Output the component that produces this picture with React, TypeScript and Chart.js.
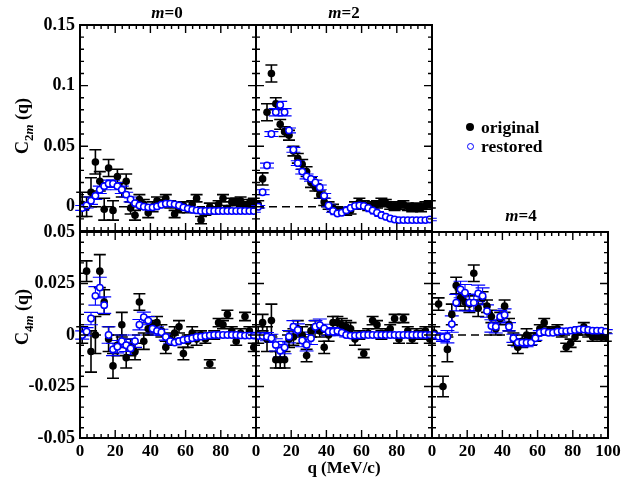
import React, { useEffect, useRef } from "react";
import { Chart, registerables } from "chart.js";

Chart.register(...registerables);

const SERIF = "'Liberation Serif', 'Times New Roman', Times, serif";

// momentum bins (MeV/c)
const Q = [
  1.25, 3.75, 6.25, 8.75, 11.25, 13.75, 16.25, 18.75, 21.25, 23.75,
  26.25, 28.75, 31.25, 33.75, 36.25, 38.75, 41.25, 43.75, 46.25, 48.75,
  51.25, 53.75, 56.25, 58.75, 61.25, 63.75, 66.25, 68.75, 71.25, 73.75,
  76.25, 78.75, 81.25, 83.75, 86.25, 88.75, 91.25, 93.75, 96.25, 98.75,
];

// C20 (m=0, top)
const C20_ORIG = [
  0.002, 0.0, 0.012, 0.037, 0.021, -0.002, 0.032, -0.003, 0.025, 0.014,
  0.021, -0.001, -0.007, 0.006, 0.002, -0.005, 0.0, 0.005, 0.003, 0.007,
  0.002, -0.006, -0.002, 0.001, -0.002, 0.002, 0.007, -0.011, -0.004, 0.0,
  -0.003, 0.002, 0.007, -0.002, 0.004, 0.004, 0.005, 0.001, 0.003, 0.004,
];
const C20_ORIG_ERR = [
  0.01, 0.008, 0.012, 0.01, 0.008, 0.009, 0.007, 0.008, 0.006, 0.006,
  0.006, 0.005, 0.004, 0.004, 0.004, 0.004, 0.004, 0.003, 0.003, 0.003,
  0.003, 0.003, 0.003, 0.003, 0.003, 0.003, 0.003, 0.003, 0.003, 0.003,
  0.003, 0.003, 0.003, 0.003, 0.003, 0.003, 0.003, 0.003, 0.003, 0.003,
];
const C20_REST = [
  -0.001, 0.001, 0.005, 0.009, 0.014, 0.017, 0.019, 0.019, 0.017, 0.014,
  0.01, 0.006, 0.003, 0.001, 0.0, -0.0005, -0.0005, 0.0003, 0.0017, 0.0025,
  0.0025, 0.002, 0.001, -0.0005, -0.0015, -0.0025, -0.003, -0.0035, -0.0035, -0.0035,
  -0.0035, -0.0035, -0.0035, -0.0035, -0.0035, -0.0035, -0.0035, -0.0035, -0.0035, -0.0035,
];
const C20_REST_ERR = [
  0.002, 0.002, 0.003, 0.003, 0.003, 0.003, 0.003, 0.003, 0.003, 0.003,
  0.002, 0.002, 0.002, 0.001, 0.001, 0.001, 0.001, 0.001, 0.001, 0.001,
  0.001, 0.001, 0.001, 0.001, 0.001, 0.001, 0.001, 0.001, 0.001, 0.001,
  0.001, 0.001, 0.001, 0.001, 0.001, 0.001, 0.001, 0.001, 0.001, 0.001,
];

// C22 (m=2, top)
const C22_ORIG = [
  0.002, 0.023, 0.078, 0.11, 0.085, 0.068, 0.062, 0.059, 0.046, 0.04,
  0.035, 0.029, 0.02, 0.016, 0.01, 0.004, 0.001, -0.001, -0.003, -0.004,
  -0.004, -0.003, 0.001, 0.004, 0.002, 0.0, 0.001, 0.002, 0.004, 0.003,
  0.001, 0.0, 0.001, 0.002, 0.0, -0.001, 0.0, -0.001, 0.001, 0.002,
];
const C22_ORIG_ERR = [
  0.003, 0.005, 0.007, 0.007, 0.005, 0.004, 0.004, 0.004, 0.004, 0.004,
  0.004, 0.004, 0.004, 0.003, 0.003, 0.003, 0.003, 0.003, 0.003, 0.003,
  0.003, 0.003, 0.003, 0.003, 0.003, 0.003, 0.003, 0.003, 0.003, 0.003,
  0.003, 0.003, 0.003, 0.003, 0.003, 0.003, 0.003, 0.003, 0.003, 0.003,
];
const C22_REST = [
  0.0, 0.012, 0.034, 0.06, 0.078, 0.084, 0.078, 0.063, 0.047, 0.036,
  0.029, 0.025, 0.023, 0.02, 0.016, 0.009, 0.001, -0.0035, -0.0055, -0.005,
  -0.003, -0.001, 0.0006, 0.001, 0.0006, -0.001, -0.003, -0.005, -0.007, -0.0083,
  -0.0097, -0.0105, -0.011, -0.011, -0.011, -0.011, -0.011, -0.011, -0.011, -0.0105,
];
const C22_REST_ERR = [
  0.001, 0.002, 0.002, 0.002, 0.003, 0.003, 0.003, 0.002, 0.002, 0.002,
  0.002, 0.002, 0.002, 0.002, 0.002, 0.002, 0.001, 0.001, 0.001, 0.001,
  0.001, 0.001, 0.001, 0.001, 0.001, 0.001, 0.001, 0.001, 0.001, 0.001,
  0.001, 0.001, 0.001, 0.001, 0.001, 0.001, 0.001, 0.001, 0.001, 0.001,
];

// C40 (m=0, bottom)
const C40_ORIG = [
  0.0, 0.031, -0.008, 0.0, 0.031, 0.016, -0.002, -0.015, -0.005, 0.005,
  -0.011, -0.006, -0.008, 0.016, -0.003, 0.003, 0.004, 0.006, 0.002, -0.006,
  -0.002, 0.001, 0.004, -0.009, -0.003, 0.001, -0.002, 0.0, -0.002, -0.014,
  0.0, 0.006, 0.005, 0.01, 0.002, -0.003, 0.001, 0.009, 0.002, -0.006,
];
const C40_ORIG_ERR = [
  0.004, 0.005, 0.01, 0.009, 0.008, 0.006, 0.006, 0.006, 0.005, 0.006,
  0.005, 0.004, 0.004, 0.004, 0.004, 0.003, 0.003, 0.003, 0.003, 0.003,
  0.003, 0.003, 0.003, 0.003, 0.003, 0.003, 0.003, 0.002, 0.002, 0.002,
  0.002, 0.002, 0.002, 0.002, 0.002, 0.002, 0.002, 0.002, 0.002, 0.002,
];
const C40_REST = [
  0.0, 0.0016, 0.008, 0.019, 0.023, 0.0145, 0.0, -0.007, -0.0057, -0.003,
  -0.005, -0.0065, -0.003, 0.005, 0.0086, 0.007, 0.003, 0.002, 0.0013, -0.001,
  -0.003, -0.0037, -0.003, -0.0024, -0.002, -0.0016, -0.001, -0.0008, -0.0005, -0.0002,
  0.0, 0.0, 0.0, 0.0, 0.0, 0.0, -0.0002, -0.0003, -0.0003, -0.0003,
];
const C40_REST_ERR = [
  0.002, 0.002, 0.003, 0.0045, 0.005, 0.004, 0.004, 0.003, 0.003, 0.003,
  0.003, 0.003, 0.003, 0.0025, 0.0025, 0.002, 0.002, 0.002, 0.0015, 0.0015,
  0.001, 0.001, 0.001, 0.001, 0.001, 0.001, 0.001, 0.001, 0.001, 0.001,
  0.001, 0.001, 0.001, 0.001, 0.001, 0.001, 0.001, 0.001, 0.001, 0.001,
];

// C42 (m=2, bottom)
const C42_ORIG = [
  0.0, 0.006, -0.002, 0.007, -0.012, -0.012, -0.012, -0.002, -0.001, 0.003,
  0.0, -0.01, 0.002, 0.004, 0.002, -0.006, 0.0, 0.006, 0.006, 0.005,
  0.004, 0.003, -0.002, 0.0, -0.009, 0.001, 0.007, 0.005, 0.0, 0.001,
  0.003, 0.008, -0.002, 0.008, 0.002, -0.002, 0.001, 0.0, 0.002, -0.002,
];
const C42_ORIG_ERR = [
  0.004, 0.004, 0.006, 0.008, 0.004, 0.004, 0.004, 0.004, 0.004, 0.004,
  0.004, 0.003, 0.003, 0.003, 0.003, 0.003, 0.003, 0.003, 0.003, 0.003,
  0.003, 0.003, 0.003, 0.002, 0.002, 0.002, 0.002, 0.002, 0.002, 0.002,
  0.002, 0.002, 0.002, 0.002, 0.002, 0.002, 0.002, 0.002, 0.002, 0.002,
];
const C42_REST = [
  -0.0005, -0.0005, -0.0008, -0.0016, -0.0048, -0.0076, -0.0061, -0.0008, 0.004, 0.0024,
  -0.0027, -0.0048, -0.0016, 0.004, 0.0048, 0.0032, 0.0016, 0.0016, 0.0019, 0.0011,
  0.0, -0.0003, -0.0003, -0.0002, 0.0, 0.0, 0.0, 0.0, 0.0, 0.0,
  0.0, 0.0, 0.0, 0.0, 0.0, 0.0, 0.0, 0.0, 0.0, 0.0,
];
const C42_REST_ERR = [
  0.001, 0.001, 0.002, 0.002, 0.003, 0.003, 0.003, 0.003, 0.003, 0.003,
  0.003, 0.003, 0.003, 0.003, 0.003, 0.002, 0.002, 0.002, 0.001, 0.001,
  0.001, 0.001, 0.001, 0.001, 0.001, 0.001, 0.001, 0.001, 0.001, 0.001,
  0.001, 0.001, 0.001, 0.001, 0.001, 0.001, 0.001, 0.001, 0.001, 0.001,
];

// C44 (m=4, bottom)
const C44_ORIG = [
  0.001, 0.015, -0.025, -0.007, 0.01, 0.024, 0.018, 0.016, 0.015, 0.03,
  0.013, 0.018, 0.014, 0.009, 0.003, 0.008, 0.014, 0.005, -0.002, -0.006,
  -0.003, 0.0, -0.002, -0.001, 0.003, 0.006, 0.002, 0.002, 0.003, 0.001,
  -0.006, -0.004, -0.001, 0.002, 0.004, 0.001, -0.001, 0.0, -0.001, -0.001,
];
const C44_ORIG_ERR = [
  0.003, 0.003, 0.005, 0.006, 0.005, 0.004, 0.004, 0.004, 0.004, 0.004,
  0.004, 0.003, 0.003, 0.003, 0.003, 0.003, 0.003, 0.003, 0.003, 0.003,
  0.003, 0.003, 0.003, 0.002, 0.002, 0.002, 0.002, 0.002, 0.002, 0.002,
  0.002, 0.002, 0.002, 0.002, 0.002, 0.002, 0.002, 0.002, 0.002, 0.002,
];
const C44_REST = [
  0.0, -0.0008, -0.0011, -0.0008, 0.0053, 0.0157, 0.0221, 0.0205, 0.0157, 0.0157,
  0.0202, 0.0189, 0.0116, 0.0044, 0.004, 0.0089, 0.0097, 0.004, -0.0016, -0.0037,
  -0.0037, -0.0037, -0.0037, -0.0016, 0.0011, 0.0016, 0.0011, 0.0011, 0.0016, 0.0019,
  0.0019, 0.0021, 0.0024, 0.0027, 0.0027, 0.0024, 0.0021, 0.0021, 0.0021, 0.0016,
];
const C44_REST_ERR = [
  0.001, 0.001, 0.002, 0.003, 0.004, 0.004, 0.004, 0.004, 0.004, 0.004,
  0.004, 0.004, 0.003, 0.003, 0.003, 0.003, 0.003, 0.002, 0.002, 0.002,
  0.002, 0.002, 0.001, 0.001, 0.001, 0.001, 0.001, 0.001, 0.001, 0.001,
  0.001, 0.001, 0.001, 0.001, 0.001, 0.001, 0.001, 0.001, 0.001, 0.001,
];

// tick labels
const Y_TICKS_TOP = [0, 0.05, 0.1, 0.15];
const Y_TICKS_BOTTOM = [-0.05, -0.025, 0, 0.025, 0.05];
const X_TICKS_SHORT = [0, 20, 40, 60, 80];
const X_TICKS_FULL = [0, 20, 40, 60, 80, 100];

interface PanelSpec {
  rect: [number, number, number, number]; // left, top, right, bottom
  yMin: number;
  yMax: number;
  yMajor: number;
  yMinor: number;
  yTicks?: number[];
  xTicks?: number[];
  orig: number[];
  origErr: number[];
  rest: number[];
  restErr: number[];
}

const PANELS: PanelSpec[] = [
  { rect: [80, 25, 256, 231], yMin: -0.02, yMax: 0.15, yMajor: 0.05, yMinor: 0.01, yTicks: Y_TICKS_TOP,
    orig: C20_ORIG, origErr: C20_ORIG_ERR, rest: C20_REST, restErr: C20_REST_ERR },
  { rect: [256, 25, 432, 231], yMin: -0.02, yMax: 0.15, yMajor: 0.05, yMinor: 0.01,
    orig: C22_ORIG, origErr: C22_ORIG_ERR, rest: C22_REST, restErr: C22_REST_ERR },
  { rect: [80, 232, 256, 438], yMin: -0.05, yMax: 0.05, yMajor: 0.025, yMinor: 0.005, yTicks: Y_TICKS_BOTTOM,
    xTicks: X_TICKS_SHORT, orig: C40_ORIG, origErr: C40_ORIG_ERR, rest: C40_REST, restErr: C40_REST_ERR },
  { rect: [256, 232, 432, 438], yMin: -0.05, yMax: 0.05, yMajor: 0.025, yMinor: 0.005,
    xTicks: X_TICKS_SHORT, orig: C42_ORIG, origErr: C42_ORIG_ERR, rest: C42_REST, restErr: C42_REST_ERR },
  { rect: [432, 232, 608, 438], yMin: -0.05, yMax: 0.05, yMajor: 0.025, yMinor: 0.005,
    xTicks: X_TICKS_FULL, orig: C44_ORIG, origErr: C44_ORIG_ERR, rest: C44_REST, restErr: C44_REST_ERR },
];

const YW = 58;
const XH = 24;
const X_FONT = { family: SERIF, size: 17, weight: "bold" as const };
const Y_FONT = { family: SERIF, size: 18, weight: "bold" as const };

const fmt = (v: number) => String(Math.round(v * 1000) / 1000);

function Panel({ spec }: { spec: PanelSpec }) {
  const ref = useRef<HTMLCanvasElement>(null);
  const [l, t, r, b] = spec.rect;
  const ml = spec.yTicks ? 72 : 20;
  const mb = spec.xTicks ? 32 : 20;
  const mt = 20;
  const mr = 20;
  const cw = r - l + ml + mr;
  const ch = b - t + mt + mb;

  useEffect(() => {
    if (!ref.current) return;

    // frame, inward ticks, zero line and error bars
    const decor = {
      id: "decor",
      beforeDatasetsDraw(chart: Chart) {
        const { ctx, chartArea: a } = chart;
        const x = chart.scales.x;
        const y = chart.scales.y;
        ctx.save();
        ctx.save();
        ctx.beginPath();
        ctx.rect(a.left, a.top, a.right - a.left, a.bottom - a.top);
        ctx.clip();
        ctx.setLineDash([8, 5]);
        ctx.lineWidth = 1.5;
        ctx.strokeStyle = "#000";
        const y0 = y.getPixelForValue(0);
        ctx.beginPath();
        ctx.moveTo(a.left, y0);
        ctx.lineTo(a.right, y0);
        ctx.stroke();
        ctx.restore();

        const bars = [
          { v: spec.orig, e: spec.origErr, color: "#000", w: 1.6, cap: 6 },
          { v: spec.rest, e: spec.restErr, color: "#0000ff", w: 1.1, cap: 7 },
        ];
        for (const bar of bars) {
          ctx.strokeStyle = bar.color;
          ctx.lineWidth = bar.w;
          Q.forEach((q, i) => {
            const px = x.getPixelForValue(q);
            const hi = y.getPixelForValue(bar.v[i] + bar.e[i]);
            const lo = y.getPixelForValue(bar.v[i] - bar.e[i]);
            ctx.beginPath();
            ctx.moveTo(px, hi);
            ctx.lineTo(px, lo);
            ctx.moveTo(px - bar.cap, hi);
            ctx.lineTo(px + bar.cap, hi);
            ctx.moveTo(px - bar.cap, lo);
            ctx.lineTo(px + bar.cap, lo);
            ctx.stroke();
          });
        }
        ctx.restore();
      },
      afterDraw(chart: Chart) {
        const { ctx, chartArea: a } = chart;
        const x = chart.scales.x;
        const y = chart.scales.y;
        ctx.save();
        ctx.strokeStyle = "#000";
        ctx.lineWidth = 1.4;
        ctx.beginPath();
        const nx = Math.round(100 / 4);
        for (let i = 0; i <= nx; i++) {
          const v = i * 4;
          const len = v % 20 === 0 ? 8 : 4;
          const px = x.getPixelForValue(v);
          ctx.moveTo(px, a.bottom);
          ctx.lineTo(px, a.bottom - len);
          ctx.moveTo(px, a.top);
          ctx.lineTo(px, a.top + len);
        }
        const ny = Math.round((spec.yMax - spec.yMin) / spec.yMinor);
        for (let i = 0; i <= ny; i++) {
          const v = spec.yMin + i * spec.yMinor;
          const k = v / spec.yMajor;
          const len = Math.abs(k - Math.round(k)) < 1e-6 ? 8 : 4;
          const py = y.getPixelForValue(v);
          ctx.moveTo(a.left, py);
          ctx.lineTo(a.left + len, py);
          ctx.moveTo(a.right, py);
          ctx.lineTo(a.right - len, py);
        }
        ctx.stroke();
        ctx.lineWidth = 2;
        ctx.strokeRect(a.left, a.top, a.right - a.left, a.bottom - a.top);
        ctx.restore();
      },
    };

    const chart = new Chart(ref.current, {
      type: "scatter",
      data: {
        datasets: [
          {
            label: "restored",
            data: Q.map((q, i) => ({ x: q, y: spec.rest[i] })),
            pointRadius: 3.2,
            pointBackgroundColor: "#fff",
            pointBorderColor: "#0000ff",
            pointBorderWidth: 1.5,
            showLine: false,
          },
          {
            label: "original",
            data: Q.map((q, i) => ({ x: q, y: spec.orig[i] })),
            pointRadius: 3.8,
            pointBackgroundColor: "#000",
            pointBorderColor: "#000",
            pointBorderWidth: 0,
            showLine: false,
          },
        ],
      },
      options: {
        responsive: false,
        animation: false,
        events: [],
        layout: {
          padding: {
            left: ml - (spec.yTicks ? YW : 0),
            top: mt,
            right: mr,
            bottom: mb - (spec.xTicks ? XH : 0),
          },
        },
        plugins: { legend: { display: false }, tooltip: { enabled: false } },
        scales: {
          x: {
            type: "linear",
            min: 0,
            max: 100,
            display: !!spec.xTicks,
            grid: { display: false, drawTicks: false },
            border: { display: false },
            ticks: { color: "#000", font: X_FONT, padding: 3, maxRotation: 0, autoSkip: false },
            afterBuildTicks: (s: any) => {
              if (spec.xTicks) s.ticks = spec.xTicks.map((v) => ({ value: v }));
            },
            afterFit: (s: any) => {
              if (spec.xTicks) s.height = XH;
            },
          },
          y: {
            type: "linear",
            min: spec.yMin,
            max: spec.yMax,
            display: !!spec.yTicks,
            grid: { display: false, drawTicks: false },
            border: { display: false },
            ticks: { color: "#000", font: Y_FONT, padding: 5, autoSkip: false, callback: (v: any) => fmt(Number(v)) },
            afterBuildTicks: (s: any) => {
              if (spec.yTicks) s.ticks = spec.yTicks.map((v) => ({ value: v }));
            },
            afterFit: (s: any) => {
              if (spec.yTicks) s.width = YW;
            },
          },
        },
      },
      plugins: [decor],
    });

    return () => chart.destroy();
  }, [spec]);

  return (
    <canvas
      ref={ref}
      width={cw}
      height={ch}
      style={{ position: "absolute", left: l - ml, top: t - mt, width: cw, height: ch }}
    />
  );
}

function Text({ x, y, size = 17, rotate = false, children }: { x: number; y: number; size?: number; rotate?: boolean; children: React.ReactNode }) {
  return (
    <div
      style={{
        position: "absolute",
        left: x,
        top: y,
        transform: `translate(-50%, -50%)${rotate ? " rotate(-90deg)" : ""}`,
        whiteSpace: "nowrap",
        fontSize: size,
        lineHeight: 1,
      }}
    >
      {children}
    </div>
  );
}

export default function App() {
  return (
    <div
      style={{
        position: "absolute",
        left: 0,
        top: 0,
        width: 623,
        height: 480,
        background: "#fff",
        fontFamily: SERIF,
        fontWeight: "bold",
        color: "#000",
        overflow: "hidden",
      }}
    >
      {PANELS.map((p, i) => (
        <Panel key={i} spec={p} />
      ))}

      <Text x={167} y={12}><i>m</i>=0</Text>
      <Text x={344} y={12}><i>m</i>=2</Text>
      <Text x={521} y={215}><i>m</i>=4</Text>

      <Text x={24} y={126} size={18} rotate>
        C<sub style={{ fontSize: 13 }}>2<i>m</i></sub> (q)
      </Text>
      <Text x={24} y={317} size={18} rotate>
        C<sub style={{ fontSize: 13 }}>4<i>m</i></sub> (q)
      </Text>
      <Text x={344} y={467} size={17}>q (MeV/c)</Text>

      {/* legend */}
      <div style={{ position: "absolute", left: 466, top: 123, width: 8, height: 8, borderRadius: "50%", background: "#000" }} />
      <div style={{ position: "absolute", left: 466.5, top: 142.5, width: 5, height: 5, borderRadius: "50%", border: "1.5px solid #0000ff", background: "#fff" }} />
      <div style={{ position: "absolute", left: 481, top: 117, fontSize: 17.5 }}>original</div>
      <div style={{ position: "absolute", left: 481, top: 136, fontSize: 17.5 }}>restored</div>
    </div>
  );
}
